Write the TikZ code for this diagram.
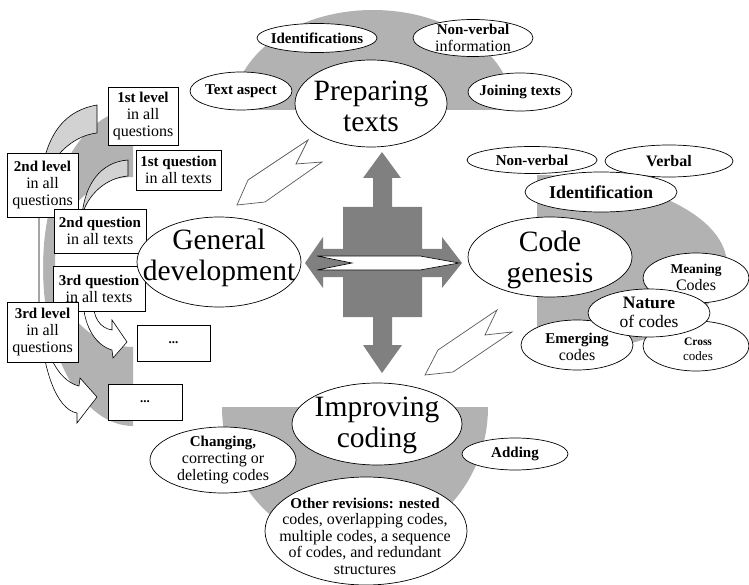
\documentclass[tikz,border=0pt]{standalone}
\usepackage{fontspec}
\setmainfont{Liberation Serif}
\usetikzlibrary{shapes.geometric}
\definecolor{bggray}{RGB}{178,178,178}
\definecolor{crossgray}{RGB}{128,128,128}
\definecolor{tailgray}{RGB}{210,210,210}
\definecolor{boltgray}{RGB}{90,90,90}
\newcommand\B[1]{{\fontsize{15}{17}\selectfont\bfseries #1}}
\tikzset{
  ell/.style={ellipse, draw=black, fill=white, line width=0.7pt, inner sep=0pt, outer sep=0pt},
  boxn/.style={rectangle, draw=black, fill=white, line width=0.7pt, inner sep=0pt, align=center, font=\fontsize{16}{17}\selectfont},
  st/.style={align=center, inner sep=0pt, font=\fontsize{16}{17}\selectfont},
  bigt/.style={align=center, inner sep=0pt, font=\fontsize{29.5}{31}\selectfont},
  bolt/.style={draw=boltgray, fill=white, line width=0.7pt, line join=miter},
  tail/.style={draw=black, fill=tailgray, line width=0.6pt},
  body/.style={fill=white},
  bodyline/.style={draw=black, line width=0.6pt},
}
\begin{document}
\begin{tikzpicture}[x=1pt,y=-1pt]
\useasboundingbox (0,0) rectangle (749,585);

% ---- gray background shapes ----
\begin{scope}
  \clip (200,0) rectangle (560,110);
  \fill[bggray] (373,110) ellipse [x radius=140, y radius=100];
\end{scope}
\begin{scope}
  \clip (537,150) rectangle (749,370);
  \fill[bggray] (537,265) ellipse [x radius=190, y radius=90];
\end{scope}
\begin{scope}
  \clip (200,407) rectangle (520,585);
  \fill[bggray] (355,407) ellipse [x radius=133, y radius=140];
\end{scope}
\begin{scope}
  \clip (0,100) rectangle (133,440);
  \fill[bggray, even odd rule] (133,268) ellipse [x radius=90, y radius=158]
        (133,262) ellipse [x radius=78, y radius=85];
\end{scope}

% ---- central cross ----
\fill[crossgray] (382,152) -- (401,178) -- (392,178) -- (392,207) -- (422,207) -- (422,249)
  -- (442,249) -- (442,237) -- (462,263) -- (442,288) -- (442,277) -- (422,277) -- (422,317)
  -- (392,317) -- (392,345) -- (402,345) -- (382,373) -- (363,345) -- (373,345) -- (373,317)
  -- (343,317) -- (343,277) -- (323,277) -- (323,288) -- (305,263) -- (323,237) -- (323,249)
  -- (343,249) -- (343,207) -- (373,207) -- (373,178) -- (363,178) -- cycle;
\draw[fill=white, line width=0.6pt] (317,256) -- (420,256) -- (459,263) -- (420,270) -- (317,270) -- (352,263) -- cycle;

% ---- zigzag arrows ----
\draw[bolt] (237,205) -- (248,180) -- (308,140) -- (296,164) -- (322,162) -- (265,202) -- cycle;
\draw[bolt] (425,375) -- (438,350) -- (497,310) -- (485,335) -- (512,332) -- (453,372) -- cycle;

% ---- left curved arrows ----
\fill[body] (39,190) -- (39,300) .. controls (40,372) and (58,410) .. (77,413) -- (77,423) -- (97,397)
  -- (80,378) -- (79,386) .. controls (62,382) and (47,360) .. (44,330) -- (43,300) -- (43,190) -- cycle;
\draw[bodyline] (39,190) -- (39,300) .. controls (40,372) and (58,410) .. (77,413) -- (77,423) -- (97,397)
  -- (80,378) -- (79,386) .. controls (62,382) and (47,360) .. (44,330);
\draw[tail] (97,105) .. controls (68,110) and (45,130) .. (40,185) .. controls (50,160) and (70,136) .. (97,133) -- cycle;

\draw[fill=white, line width=0.6pt] (83,268) -- (83,300) .. controls (84,330) and (98,346) .. (112,350) -- (113,358)
  -- (127,342) -- (112,320) -- (112,330) .. controls (100,328) and (93,318) .. (93,300) -- (93,268);
\draw[tail] (128,160) .. controls (100,162) and (85,185) .. (82,215) .. controls (88,195) and (105,178) .. (128,176) -- cycle;

% ---- boxes ----
\node[boxn, minimum width=70, minimum height=58] (l1) at (143,116) {\B{1st level}\\in all\\questions};
\node[boxn, minimum width=85, minimum height=40] (q1) at (178.5,170) {\B{1st question}\\in all texts};
\node[boxn, minimum width=71, minimum height=64] (l2) at (42.5,185) {\B{2nd level}\\in all\\questions};
\node[boxn, minimum width=92, minimum height=44] (q2) at (100,231) {\B{2nd question}\\in all texts};
\node[boxn, minimum width=92, minimum height=45] (q3) at (99,288.5) {\B{3rd question}\\in all texts};
\node[boxn, minimum width=71, minimum height=60] (l3) at (42.5,332) {\B{3rd level}\\in all\\questions};
\node[boxn, minimum width=73, minimum height=36, font=\fontsize{13}{15}\selectfont\bfseries] (d1) at (173.5,343) {...};
\node[boxn, minimum width=74, minimum height=36, font=\fontsize{13}{15}\selectfont\bfseries] (d2) at (145,402) {...};

% ---- top group ----
\node[ell, minimum width=120, minimum height=29] (ident) at (317,38) {};
\node[st] (identT) at (317,38) {\B{Identifications}};
\node[ell, minimum width=120, minimum height=37] (nvinfo) at (473,38) {};
\node[st] (nvinfoT) at (473,38) {\B{Non-verbal}\\information};
\node[ell, minimum width=102, minimum height=38] (textasp) at (241,91) {};
\node[st] (textaspT) at (241,91) {\B{Text aspect}};
\node[ell, minimum width=104, minimum height=38] (join) at (520,92) {};
\node[st] (joinT) at (520,92) {\B{Joining texts}};
\node[ell, minimum width=152, minimum height=87] (prep) at (371,103.5) {};
\node[bigt] (prepT) at (371,106) {Preparing\\texts};

% ---- right group ----
\node[ell, minimum width=130, minimum height=27] (nv) at (532,160) {};
\node[st] (nvT) at (532,160) {\B{Non-verbal}};
\node[ell, minimum width=128, minimum height=32] (verbal) at (669,161) {};
\node[st] (verbalT) at (669,161) {{\fontsize{16}{17}\selectfont\bfseries Verbal}};
\node[ell, minimum width=152, minimum height=40] (identif) at (601,192) {};
\node[st] (identifT) at (601,192) {{\fontsize{18}{20}\selectfont\bfseries Identification}};
\node[ell, minimum width=164, minimum height=80] (code) at (550,257) {};
\node[bigt] (codeT) at (550,260) {Code\\genesis};
\node[ell, minimum width=106, minimum height=50] (meaning) at (696,278) {};
\node[ell, minimum width=112, minimum height=50] (emerg) at (577,345) {};
\node[ell, minimum width=106, minimum height=50] (cross) at (696,346) {};
\node[ell, minimum width=122, minimum height=48] (nature) at (649,313) {};
\node[st] (meaningT) at (696,277) {{\fontsize{13.5}{15}\selectfont\bfseries Meaning}\\Codes};
\node[st] (emergT) at (577,347) {\B{Emerging}\\codes};
\node[align=center, inner sep=0pt, font=\fontsize{13}{15}\selectfont] (crossT) at (698,349) {{\fontsize{11.5}{15}\selectfont\bfseries Cross}\\codes};
\node[align=center, inner sep=0pt, font=\fontsize{17.5}{19}\selectfont] (natureT) at (649,312) {\textbf{Nature}\\of codes};

% ---- left ----
\node[ell, minimum width=164, minimum height=90] (gen) at (219,262) {};
\node[bigt] (genT) at (219,258) {General\\development};

% ---- bottom group ----
\node[ell, minimum width=170, minimum height=82] (impr) at (377,424) {};
\node[bigt] (imprT) at (377,425) {Improving\\coding};
\node[ell, minimum width=146, minimum height=66] (chg) at (223,460) {};
\node[st] (chgT) at (223,460) {\B{Changing,}\\correcting or\\deleting codes};
\node[ell, minimum width=106, minimum height=32] (add) at (515,454) {};
\node[st] (addT) at (515,454) {\B{Adding}};
\node[ell, minimum width=202, minimum height=108] (other) at (366,531) {};
\node[align=center, inner sep=0pt, font=\fontsize{16}{16.5}\selectfont] (otherT) at (365,536)
  {\B{Other revisions: nested}\\codes, overlapping codes,\\multiple codes, a sequence\\of codes, and redundant\\structures};
\end{tikzpicture}
\end{document}
